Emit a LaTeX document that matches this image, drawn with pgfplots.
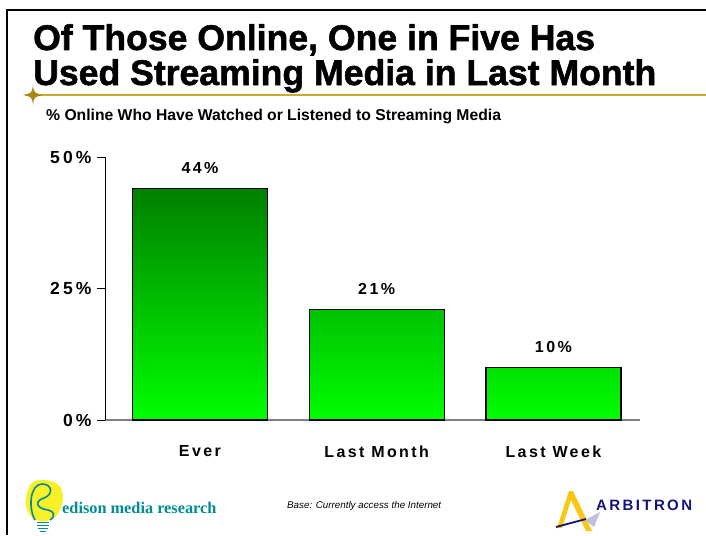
\documentclass[border=0pt]{standalone}
\usepackage{fontspec}
\setmainfont{Liberation Sans}
\usepackage{pgfplots}
\pgfplotsset{compat=1.18}
\newfontfamily\titlefont[FakeBold=1.5]{Liberation Sans Bold}
\newfontfamily\spacedbf[LetterSpace=15]{Liberation Sans Bold}
\newfontfamily\tickbf[LetterSpace=18]{Liberation Sans Bold}
\newfontfamily\arbfont[LetterSpace=16]{Liberation Sans Bold}
\newfontfamily\logoserif{Liberation Serif}
\definecolor{darkbar}{RGB}{0,128,0}
\definecolor{midbar}{RGB}{0,210,0}
\definecolor{lightbar}{RGB}{0,255,0}
\definecolor{goldline}{RGB}{205,170,40}
\definecolor{goldstar}{RGB}{170,135,20}
\definecolor{edteal}{RGB}{0,140,150}
\definecolor{edyellow}{RGB}{250,240,40}
\definecolor{arbnavy}{RGB}{20,20,120}
\definecolor{arbyellow}{RGB}{250,200,20}

\begin{document}
\begin{tikzpicture}
\useasboundingbox (0,0) rectangle (706pt,-535pt);
% slide frame
\draw[line width=2pt] (7pt,-535pt) -- (7pt,-10pt) -- (706pt,-10pt);
% title
\node[anchor=base west, inner sep=0pt] at (33pt,-50pt) {\titlefont\fontsize{35.6}{38}\selectfont Of Those Online, One in Five Has};
\node[anchor=base west, inner sep=0pt] at (33pt,-85pt) {\titlefont\fontsize{35.6}{38}\selectfont Used Streaming Media in Last Month};
% gold rule and star
\draw[goldline, line width=1.5pt] (33pt,-95pt) -- (706pt,-95pt);
\fill[goldstar] (33pt,-85pt) .. controls (34pt,-93pt) .. (43pt,-95pt)
  .. controls (34pt,-97pt) .. (33pt,-105pt)
  .. controls (32pt,-97pt) .. (23pt,-95pt)
  .. controls (32pt,-93pt) .. (33pt,-85pt) -- cycle;
% subtitle
\node[anchor=base west, inner sep=0pt] at (46pt,-120pt) {\bfseries\fontsize{15.7}{17}\selectfont \% Online Who Have Watched or Listened to Streaming Media};

\begin{axis}[
  at={(105pt,-420pt)}, anchor=south west,
  scale only axis, width=535pt, height=263pt,
  xmin=-0.537, xmax=2.49, ymin=0, ymax=50,
  axis x line*=bottom, axis y line*=left,
  x axis line style={draw=gray, line width=1.2pt, -},
  y axis line style={draw=black, line width=0.8pt, -},
  xtick=data, xticklabels={Ever, Last Month, Last Week},
  xtick style={draw=none},
  ytick={0,25,50}, yticklabels={0\%,25\%,50\%},
  ytick style={draw=black, line width=0.8pt},
  tick align=outside, major tick length=8pt,
  xticklabel style={font=\spacedbf\fontsize{16}{18}\selectfont, yshift=-14pt},
  yticklabel style={font=\tickbf\fontsize{17.5}{19}\selectfont, xshift=-2pt},
  ybar, bar width=135pt,
  point meta=explicit symbolic,
  nodes near coords,
  nodes near coords style={font=\spacedbf\fontsize{16}{18}\selectfont, yshift=11pt},
  clip=false,
]
\addplot[draw=black, line width=1.2pt, top color=darkbar, middle color=midbar, bottom color=lightbar]
  coordinates {(0,44) [44\%] (1,21) [21\%] (2,10) [10\%]};
\end{axis}

% footer: edison logo
\fill[edyellow] (28pt,-490pt) .. controls (30pt,-476pt) and (52pt,-478pt) .. (60pt,-486pt)
  .. controls (66pt,-496pt) and (62pt,-512pt) .. (54pt,-518pt)
  .. controls (46pt,-524pt) and (32pt,-522pt) .. (28pt,-512pt)
  .. controls (24pt,-504pt) and (26pt,-496pt) .. cycle;
\draw[edteal, line width=1.6pt] (35pt,-520pt) .. controls (28pt,-508pt) and (30pt,-484pt) .. (42pt,-484pt)
  .. controls (52pt,-484pt) and (54pt,-494pt) .. (44pt,-498pt)
  .. controls (36pt,-500pt) and (34pt,-508pt) .. (48pt,-510pt)
  .. controls (54pt,-511pt) and (56pt,-516pt) .. (50pt,-520pt);
\draw[edteal, line width=1pt] (37pt,-522pt) -- (49pt,-522pt) (37pt,-525pt) -- (49pt,-525pt)
  (38pt,-528pt) -- (48pt,-528pt) (40pt,-531pt) -- (46pt,-531pt);
\node[anchor=base west, inner sep=0pt, text=edteal] at (62pt,-513pt) {\logoserif\bfseries\fontsize{16.3}{18}\selectfont edison media research};
% base note
\node[anchor=base west, inner sep=0pt] at (287pt,-508pt) {\itshape\fontsize{9.8}{11}\selectfont Base: Currently access the Internet};
% arbitron logo
\fill[arbyellow] (557pt,-528pt) -- (569pt,-491pt) -- (573pt,-491pt) -- (592pt,-531pt) -- (586pt,-531pt) -- (571pt,-500pt) -- (562pt,-528pt) -- cycle;
\fill[blue!25!gray!40] (585pt,-520pt) -- (600pt,-512pt) -- (594pt,-527pt) -- cycle;
\draw[arbnavy, line width=1.8pt] (556pt,-527pt) -- (586pt,-519pt);
\node[anchor=base west, inner sep=0pt, text=arbnavy] at (596pt,-510pt) {\arbfont\fontsize{15}{17}\selectfont ARBITRON};
\end{tikzpicture}
\end{document}
